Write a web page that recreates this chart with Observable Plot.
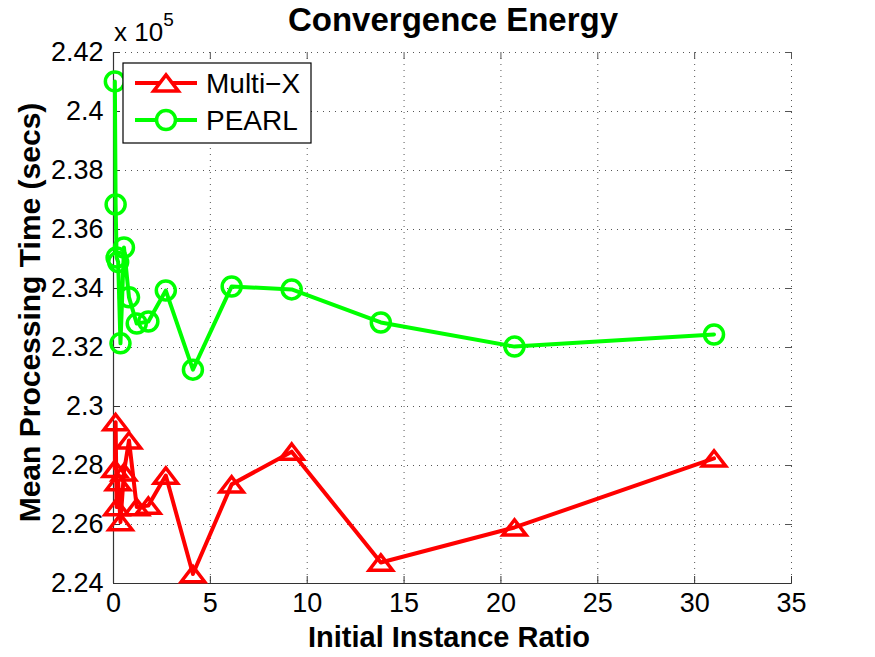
<!DOCTYPE html>
<html>
<head>
<meta charset="utf-8">
<script src="https://cdn.jsdelivr.net/npm/d3@7"></script>
<script src="https://cdn.jsdelivr.net/npm/@observablehq/plot@0.6"></script>
<style>
  html, body { margin: 0; padding: 0; background: white; }
</style>
</head>
<body>
<div id="chart"></div>
<script>
// ---- data ----
const ratio = [0.07, 0.11, 0.16, 0.24, 0.36, 0.54, 0.8, 1.2, 1.8, 2.7, 4.1, 6.1, 9.2, 13.8, 20.7, 31.0];
const multiX = [227890, 229470, 226590, 227440, 226080, 227770, 228850, 226590, 226640, 227660, 224320, 227360, 228470, 224710, 225900, 228240];
const pearl  = [241020, 236850, 235050, 234900, 232140, 235390, 233700, 232810, 232880, 233930, 231250, 234070, 233970, 232850, 232030, 232440];
const seriesNames = ["Multi\u2212X", "PEARL"];
const xTicks = [0, 5, 10, 15, 20, 25, 30, 35];
const yTicks = [224000, 226000, 228000, 230000, 232000, 234000, 236000, 238000, 240000, 242000];
const yTickLabels = ["2.24", "2.26", "2.28", "2.3", "2.32", "2.34", "2.36", "2.38", "2.4", "2.42"];
const titleText = "Convergence Energy";
const xLabel = "Initial Instance Ratio";
const yLabel = "Mean Processing Time (secs)";

const dataMX = ratio.map((r, i) => ({x: r, y: multiX[i]}));
const dataPE = ratio.map((r, i) => ({x: r, y: pearl[i]}));

const RED = "#ff0000", GREEN = "#00ff00";

// MATLAB-like flat triangle marker
const flatTriangle = {
  draw(context, size) {
    const r = Math.sqrt(size / Math.PI);
    const hw = r * 1.3, hh = r * 0.85;
    context.moveTo(0, -hh);
    context.lineTo(hw, hh);
    context.lineTo(-hw, hh);
    context.closePath();
  }
};

const yFmt = (d) => yTickLabels[yTicks.indexOf(d)] ?? "";

function decorations(index, scales, values, dim) {
  const g = d3.create("svg:g")
    .attr("font-family", "'Liberation Sans', Arial, Helvetica, sans-serif")
    .attr("fill", "black").attr("text-anchor", "start");
  const left = dim.marginLeft, right = dim.width - dim.marginRight;
  const top = dim.marginTop, bottom = dim.height - dim.marginBottom;
  const cx = (left + right) / 2;
  // title
  g.append("text").attr("x", cx + 1).attr("y", 31).attr("text-anchor", "middle")
    .attr("font-size", 33).attr("font-weight", "bold").text(titleText);
  // exponent
  const ex = g.append("text").attr("x", left + 1).attr("y", 41).attr("font-size", 26).attr("text-anchor", "start");
  ex.append("tspan").text("x 10");
  ex.append("tspan").attr("dy", -15).attr("font-size", 19).text("5");
  // axis labels
  g.append("text").attr("x", cx - 3).attr("y", 647).attr("text-anchor", "middle")
    .attr("font-size", 29).attr("font-weight", "bold").text(xLabel);
  g.append("text").attr("transform", `translate(40,${(top + bottom) / 2 - 5}) rotate(-90)`)
    .attr("text-anchor", "middle").attr("font-size", 30).attr("font-weight", "bold").text(yLabel);
  // legend
  const lx = left + 10, ly = top + 11, lw = 188, lh = 80;
  g.append("rect").attr("x", lx).attr("y", ly).attr("width", lw).attr("height", lh)
    .attr("fill", "white").attr("stroke", "black").attr("stroke-width", 1.2);
  const rows = [
    {name: seriesNames[0], color: RED, sym: flatTriangle},
    {name: seriesNames[1], color: GREEN, sym: d3.symbolCircle}
  ];
  rows.forEach((row, i) => {
    const yy = ly + 20 + i * 37;
    g.append("line").attr("x1", lx + 12).attr("x2", lx + 74).attr("y1", yy).attr("y2", yy)
      .attr("stroke", row.color).attr("stroke-width", 4);
    g.append("path").attr("transform", `translate(${lx + 43},${yy})`)
      .attr("d", d3.symbol(row.sym, 9.5 * 9.5 * Math.PI)())
      .attr("fill", "white").attr("stroke", row.color).attr("stroke-width", 3.5);
    g.append("text").attr("x", lx + 83).attr("y", yy + 10).attr("text-anchor", "start")
      .attr("font-size", 28).text(row.name);
  });
  return g.node();
}

const chart = Plot.plot({
  width: 875,
  height: 657,
  marginLeft: 113,
  marginRight: 84,
  marginTop: 52,
  marginBottom: 74,
  style: {fontFamily: "'Liberation Sans', Arial, Helvetica, sans-serif", fontSize: "27px", background: "white", color: "black", overflow: "visible"},
  x: {domain: [0, 35]},
  y: {domain: [224000, 242000]},
  marks: [
    Plot.gridX(xTicks, {stroke: "#555", strokeOpacity: 1, strokeWidth: 1, strokeDasharray: "1,5"}),
    Plot.gridY(yTicks, {stroke: "#555", strokeOpacity: 1, strokeWidth: 1, strokeDasharray: "1,5"}),
    Plot.axisX(xTicks, {anchor: "top", tickSize: -6, tickFormat: () => "", stroke: "#555", label: null}),
    Plot.axisY(yTicks, {anchor: "right", tickSize: -6, tickFormat: () => "", stroke: "#555", label: null}),
    Plot.axisX(xTicks, {anchor: "bottom", tickSize: -7, tickPadding: 16, tickFormat: (d) => String(d), stroke: "#333", label: null}),
    Plot.axisY(yTicks, {anchor: "left", tickSize: -7, tickPadding: 17, tickFormat: yFmt, stroke: "#333", label: null}),
    Plot.ruleX([0], {stroke: "#333", strokeWidth: 1.2}),
    Plot.ruleY([224000], {stroke: "#333", strokeWidth: 1.2}),
    Plot.line(dataMX, {x: "x", y: "y", stroke: RED, strokeWidth: 4}),
    Plot.dot(dataMX, {x: "x", y: "y", symbol: flatTriangle, r: 9, stroke: RED, strokeWidth: 3.5, fill: "none"}),
    Plot.line(dataPE, {x: "x", y: "y", stroke: GREEN, strokeWidth: 4}),
    Plot.dot(dataPE, {x: "x", y: "y", symbol: "circle", r: 9.5, stroke: GREEN, strokeWidth: 3.5, fill: "none"}),
    decorations
  ]
});
document.getElementById("chart").appendChild(chart);
</script>
</body>
</html>
